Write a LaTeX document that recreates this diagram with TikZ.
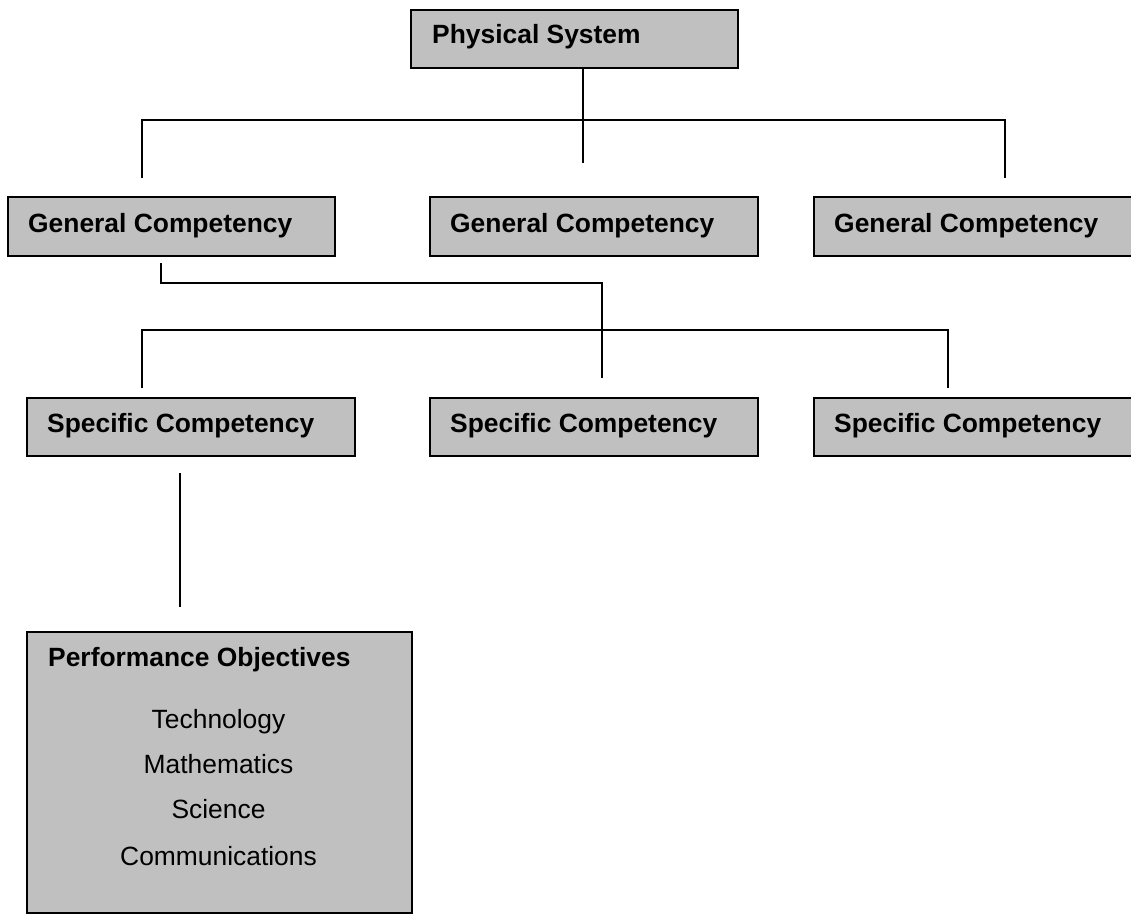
\documentclass[tikz,border=0pt]{standalone}
\usepackage{fontspec}
\setmainfont{Liberation Sans}
\definecolor{boxgray}{HTML}{C0C0C0}
\begin{document}
\begin{tikzpicture}[x=1pt,y=-1pt,
  box/.style={draw=black, fill=boxgray, line width=1.8pt, inner sep=0pt, anchor=north west},
  head/.style={anchor=base west, inner sep=0pt, font=\fontsize{26.4}{30}\selectfont\bfseries},
  item/.style={anchor=base, inner sep=0pt, font=\fontsize{26.4}{30}\selectfont},
  conn/.style={draw=black, line width=1.8pt}]
\useasboundingbox (0,0) rectangle (1131,913);
% boxes
\node[box, minimum width=327pt, minimum height=58pt] (ps) at (410,9) {};
\node[box, minimum width=327pt, minimum height=59pt] (g1) at (7,196) {};
\node[box, minimum width=328pt, minimum height=59pt] (g2) at (429,196) {};
\node[box, minimum width=330pt, minimum height=59pt] (g3) at (813,196) {};
\node[box, minimum width=328pt, minimum height=58pt] (s1) at (26,397) {};
\node[box, minimum width=328pt, minimum height=58pt] (s2) at (429,397) {};
\node[box, minimum width=330pt, minimum height=58pt] (s3) at (813,397) {};
\node[box, minimum width=385pt, minimum height=281pt] (po) at (26,631) {};
% texts
\node[head] (tps) at (432,43) {Physical System};
\node[head] (tg1) at (28,232) {General Competency};
\node[head] (tg2) at (450,232) {General Competency};
\node[head] (tg3) at (834,232) {General Competency};
\node[head] (ts1) at (47,432) {Specific Competency};
\node[head] (ts2) at (450,432) {Specific Competency};
\node[head] (ts3) at (834,432) {Specific Competency};
\node[head] (tpo) at (48,666) {Performance Objectives};
\node[item] (i1) at (218.5,728) {Technology};
\node[item] (i2) at (218.5,773) {Mathematics};
\node[item] (i3) at (218.5,818) {Science};
\node[item] (i4) at (218.5,865) {Communications};
% connector points
\coordinate (a0) at (583,163);
\coordinate (a1) at (142,120);
\coordinate (a2) at (1005,120);
\coordinate (a1e) at (142,178);
\coordinate (a2e) at (1005,178);
\coordinate (b0) at (161,263);
\coordinate (b1) at (602,283);
\coordinate (b2) at (602,378);
\coordinate (c1) at (142,330);
\coordinate (c2) at (948,330);
\coordinate (c1e) at (142,388);
\coordinate (c2e) at (948,388);
\coordinate (d0) at (180,473);
\coordinate (d1) at (180,607);
% connectors
\draw[conn] (ps.south -| a0) -- (a0);
\draw[conn] (a1e) -- (a1) -- (a2) -- (a2e);
\draw[conn] (b0) |- (b1) -- (b2);
\draw[conn] (c1e) -- (c1) -- (c2) -- (c2e);
\draw[conn] (d0) -- (d1);
\end{tikzpicture}
\end{document}
